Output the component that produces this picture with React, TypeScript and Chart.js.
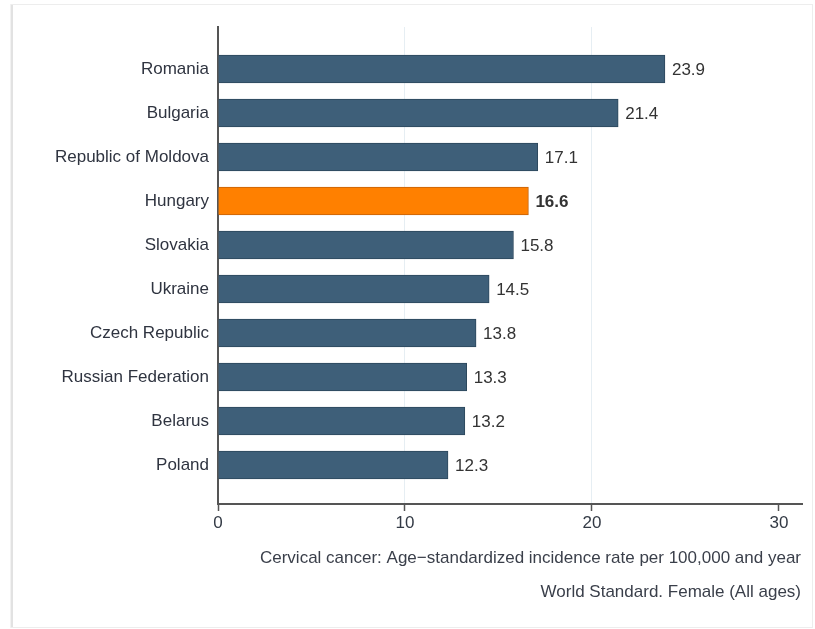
import React, { useEffect, useRef } from "react";
import { Chart, registerables } from "chart.js";

Chart.register(...registerables);

const categories = [
  "Romania",
  "Bulgaria",
  "Republic of Moldova",
  "Hungary",
  "Slovakia",
  "Ukraine",
  "Czech Republic",
  "Russian Federation",
  "Belarus",
  "Poland",
];
const values = [23.9, 21.4, 17.1, 16.6, 15.8, 14.5, 13.8, 13.3, 13.2, 12.3];
const highlighted = "Hungary";
const xTicks = [0, 10, 20, 30];
const axisTitleLines = [
  "Cervical cancer: Age\u2212standardized incidence rate per 100,000 and year",
  "World Standard. Female (All ages)",
];

const FONT = "'Liberation Sans', Arial, sans-serif";

export default function App() {
  const ref = useRef<HTMLCanvasElement | null>(null);

  useEffect(() => {
    document.body.style.margin = "0";
    const canvas = ref.current;
    if (!canvas) return;

    const framePlugin = {
      id: "frame",
      beforeDraw(chart: any) {
        const ctx = chart.ctx;
        ctx.save();
        ctx.fillStyle = "#ffffff";
        ctx.fillRect(0, 0, chart.width, chart.height);
        ctx.lineWidth = 1;
        ctx.strokeStyle = "#f2f2f2";
        ctx.beginPath();
        ctx.moveTo(10.5, 4);
        ctx.lineTo(10.5, 628);
        ctx.stroke();
        ctx.strokeStyle = "#e2e2e2";
        ctx.beginPath();
        ctx.moveTo(12, 4);
        ctx.lineTo(12, 628);
        ctx.lineWidth = 2;
        ctx.stroke();
        ctx.lineWidth = 1;
        ctx.strokeStyle = "#ededed";
        ctx.beginPath();
        ctx.moveTo(11, 4.5);
        ctx.lineTo(813, 4.5);
        ctx.moveTo(11, 627.5);
        ctx.lineTo(813, 627.5);
        ctx.moveTo(812.5, 4);
        ctx.lineTo(812.5, 628);
        ctx.stroke();
        ctx.restore();
      },
    };

    const valueLabelPlugin = {
      id: "valueLabels",
      afterDatasetsDraw(chart: any) {
        const ctx = chart.ctx;
        const meta = chart.getDatasetMeta(0);
        ctx.save();
        ctx.textAlign = "left";
        ctx.textBaseline = "middle";
        ctx.fillStyle = "#333333";
        meta.data.forEach((el: any, i: number) => {
          const bold = categories[i] === highlighted;
          ctx.font = `${bold ? "bold " : ""}17px ${FONT}`;
          ctx.fillText(values[i].toFixed(1), el.x + 7, el.y + 1);
        });
        ctx.restore();
      },
    };

    const axisTitlePlugin = {
      id: "axisTitle",
      afterDraw(chart: any) {
        const ctx = chart.ctx;
        const right = chart.chartArea.right - 1;
        ctx.save();
        ctx.textAlign = "right";
        ctx.textBaseline = "middle";
        ctx.fillStyle = "#3a3f4a";
        ctx.font = `17px ${FONT}`;
        ctx.fillText(axisTitleLines[0], right, 558);
        ctx.fillText(axisTitleLines[1], right, 592);
        ctx.restore();
      },
    };

    const chart = new Chart(canvas, {
      type: "bar",
      data: {
        labels: categories,
        datasets: [
          {
            data: values.map((v, i) => ({ x: v, y: i })),
            backgroundColor: categories.map((c) =>
              c === highlighted ? "#ff8000" : "#3e5f79"
            ),
            borderColor: categories.map((c) =>
              c === highlighted ? "#c4620a" : "#2c475c"
            ),
            borderWidth: 1,
            barThickness: 28,
          } as any,
        ],
      },
      options: {
        indexAxis: "y",
        animation: false,
        responsive: false,
        devicePixelRatio: 1,
        layout: { padding: { top: 27, right: 13, left: 0, bottom: 0 } },
        plugins: {
          legend: { display: false },
          tooltip: { enabled: false },
          title: { display: false },
        },
        scales: {
          x: {
            type: "linear",
            bounds: "data",
            min: 0,
            max: 31.23,
            afterBuildTicks: (scale: any) => {
              scale.ticks = xTicks.map((v) => ({ value: v }));
            },
            afterFit: (scale: any) => {
              scale.height = 125;
            },
            grid: {
              color: (c: any) =>
                c.tick && (c.tick.value === 10 || c.tick.value === 20)
                  ? "#e6eef3"
                  : "rgba(0,0,0,0)",
              tickColor: "#555555",
              tickLength: 7,
              tickWidth: 1.5,
              lineWidth: 1,
            },
            border: { display: true, color: "#555555", width: 2 },
            ticks: {
              padding: 2,
              color: "#333a45",
              font: { family: FONT, size: 17 },
              maxRotation: 0,
              autoSkip: false,
            },
          },
          y: {
            type: "linear",
            bounds: "data",
            offset: false,
            reverse: true,
            min: -0.955,
            max: 9.886,
            afterBuildTicks: (scale: any) => {
              scale.ticks = categories.map((_, i) => ({ value: i }));
            },
            afterFit: (scale: any) => {
              scale.width = 218;
            },
            grid: {
              offset: false,
              color: "rgba(0,0,0,0)",
              drawTicks: false,
            },
            border: { display: true, color: "#555555", width: 2 },
            ticks: {
              padding: 9,
              color: "#2f3440",
              font: { family: FONT, size: 17 },
              autoSkip: false,
              callback: (v: any) => categories[v as number] ?? "",
            },
          },
        },
      } as any,
      plugins: [framePlugin, valueLabelPlugin, axisTitlePlugin],
    });

    return () => chart.destroy();
  }, []);

  return (
    <div style={{ width: 815, height: 629 }}>
      <canvas
        ref={ref}
        width={815}
        height={629}
        style={{ display: "block", width: 815, height: 629 }}
      />
    </div>
  );
}
